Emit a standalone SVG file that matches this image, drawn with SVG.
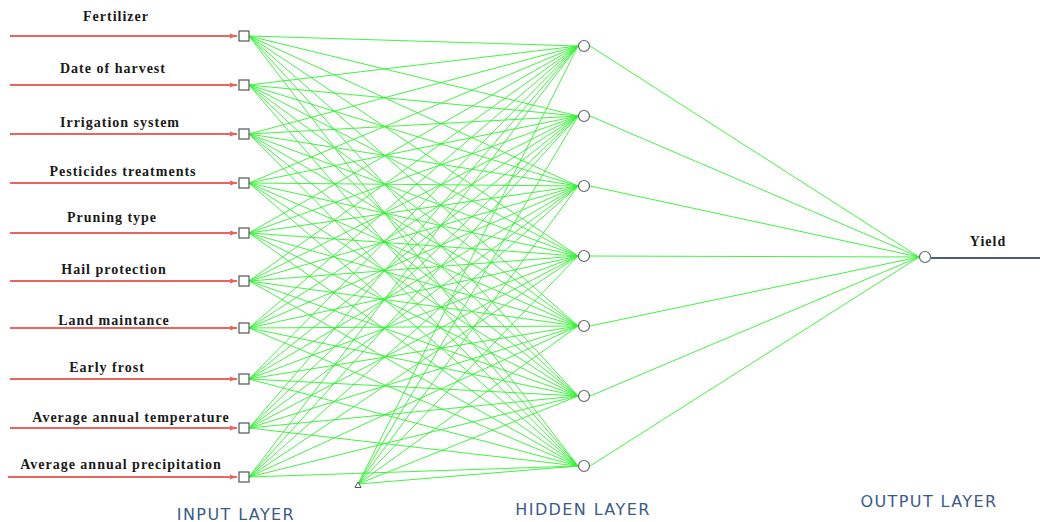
<svg xmlns="http://www.w3.org/2000/svg" width="1040" height="522" viewBox="0 0 1040 522">
<style>
.lbl{font-family:"Liberation Serif",serif;font-weight:bold;font-size:14px;fill:#1a1a1a;text-anchor:middle;letter-spacing:1px}
.layer{font-family:"DejaVu Sans",sans-serif;font-size:16px;fill:#3b5a8c;text-anchor:middle;letter-spacing:1.4px}
.in{stroke:#e8665f;stroke-width:2;fill:none;marker-end:url(#ah)}
.w{stroke:#2ef22e;stroke-width:0.9;fill:none}
.sq{fill:#fff;stroke:#555;stroke-width:1.2}
.nd{fill:#fff;stroke:#666;stroke-width:1.2}
</style>
<defs>
<marker id="ah" markerWidth="8" markerHeight="6" refX="7" refY="3" orient="auto" markerUnits="userSpaceOnUse">
<path d="M0,0.5 L7,3 L0,5.5 z" fill="#e8665f"/>
</marker>
</defs>
<rect width="1040" height="522" fill="#fff"/>
<g id="connectors">
<g id="inputs">
<line class="in" x1="10" y1="36" x2="237" y2="36"/>
<line class="in" x1="10" y1="85" x2="237" y2="85"/>
<line class="in" x1="10" y1="134" x2="237" y2="134"/>
<line class="in" x1="10" y1="183" x2="237" y2="183"/>
<line class="in" x1="10" y1="233" x2="237" y2="233"/>
<line class="in" x1="10" y1="281" x2="237" y2="281"/>
<line class="in" x1="10" y1="328" x2="237" y2="328"/>
<line class="in" x1="10" y1="379" x2="237" y2="379"/>
<line class="in" x1="10" y1="428" x2="237" y2="428"/>
<line class="in" x1="8" y1="477" x2="237" y2="477"/>
</g>
<path class="w" d="M249,36 L578,46 M249,36 L578,116 M249,36 L578,186 M249,36 L578,256 M249,36 L578,326 M249,36 L578,396 M249,36 L578,466
M249,85 L578,46 M249,85 L578,116 M249,85 L578,186 M249,85 L578,256 M249,85 L578,326 M249,85 L578,396 M249,85 L578,466
M249,134 L578,46 M249,134 L578,116 M249,134 L578,186 M249,134 L578,256 M249,134 L578,326 M249,134 L578,396 M249,134 L578,466
M249,183 L578,46 M249,183 L578,116 M249,183 L578,186 M249,183 L578,256 M249,183 L578,326 M249,183 L578,396 M249,183 L578,466
M249,233 L578,46 M249,233 L578,116 M249,233 L578,186 M249,233 L578,256 M249,233 L578,326 M249,233 L578,396 M249,233 L578,466
M249,281 L578,46 M249,281 L578,116 M249,281 L578,186 M249,281 L578,256 M249,281 L578,326 M249,281 L578,396 M249,281 L578,466
M249,328 L578,46 M249,328 L578,116 M249,328 L578,186 M249,328 L578,256 M249,328 L578,326 M249,328 L578,396 M249,328 L578,466
M249,379 L578,46 M249,379 L578,116 M249,379 L578,186 M249,379 L578,256 M249,379 L578,326 M249,379 L578,396 M249,379 L578,466
M249,428 L578,46 M249,428 L578,116 M249,428 L578,186 M249,428 L578,256 M249,428 L578,326 M249,428 L578,396 M249,428 L578,466
M249,477 L578,46 M249,477 L578,116 M249,477 L578,186 M249,477 L578,256 M249,477 L578,326 M249,477 L578,396 M249,477 L578,466
M358,484 L578,46 M358,484 L578,116 M358,484 L578,186 M358,484 L578,256 M358,484 L578,326 M358,484 L578,396 M358,484 L578,466
M590,46 L919,257 M590,116 L919,257 M590,186 L919,257 M590,256 L919,257 M590,326 L919,257 M590,396 L919,257 M590,466 L919,257"/>
<line x1="931" y1="258" x2="1040" y2="258" stroke="#4a5f80" stroke-width="2"/>
</g>
<g id="input-nodes">
<g id="in1"><rect class="sq" x="239" y="31" width="10" height="10"/><text class="lbl" x="116" y="21">Fertilizer</text></g>
<g id="in2"><rect class="sq" x="239" y="80" width="10" height="10"/><text class="lbl" x="113" y="73">Date of harvest</text></g>
<g id="in3"><rect class="sq" x="239" y="129" width="10" height="10"/><text class="lbl" x="120" y="127">Irrigation system</text></g>
<g id="in4"><rect class="sq" x="239" y="178" width="10" height="10"/><text class="lbl" x="123" y="176">Pesticides treatments</text></g>
<g id="in5"><rect class="sq" x="239" y="228" width="10" height="10"/><text class="lbl" x="112" y="222">Pruning type</text></g>
<g id="in6"><rect class="sq" x="239" y="276" width="10" height="10"/><text class="lbl" x="114" y="274">Hail protection</text></g>
<g id="in7"><rect class="sq" x="239" y="323" width="10" height="10"/><text class="lbl" x="114" y="325">Land maintance</text></g>
<g id="in8"><rect class="sq" x="239" y="374" width="10" height="10"/><text class="lbl" x="107" y="372">Early frost</text></g>
<g id="in9"><rect class="sq" x="239" y="423" width="10" height="10"/><text class="lbl" x="131" y="422">Average annual temperature</text></g>
<g id="in10"><rect class="sq" x="239" y="472" width="10" height="10"/><text class="lbl" x="121" y="469">Average annual precipitation</text></g>
</g>
<g id="bias"><path d="M355,487.5 L358,482 L361,487.5 z" fill="#fff" stroke="#555" stroke-width="1"/></g>
<g id="hidden-nodes">
<circle id="h1" class="nd" cx="584" cy="46" r="5.5"/>
<circle id="h2" class="nd" cx="584" cy="116" r="5.5"/>
<circle id="h3" class="nd" cx="584" cy="186" r="5.5"/>
<circle id="h4" class="nd" cx="584" cy="256" r="5.5"/>
<circle id="h5" class="nd" cx="584" cy="326" r="5.5"/>
<circle id="h6" class="nd" cx="584" cy="396" r="5.5"/>
<circle id="h7" class="nd" cx="584" cy="466" r="5.5"/>
</g>
<g id="output-node">
<circle class="nd" cx="925" cy="257" r="5.5"/>
<text class="lbl" x="988" y="246">Yield</text>
</g>
<g id="layer-labels">
<text class="layer" x="236" y="520">INPUT LAYER</text>
<text class="layer" x="583" y="515">HIDDEN LAYER</text>
<text class="layer" x="929" y="507">OUTPUT LAYER</text>
</g>
</svg>
